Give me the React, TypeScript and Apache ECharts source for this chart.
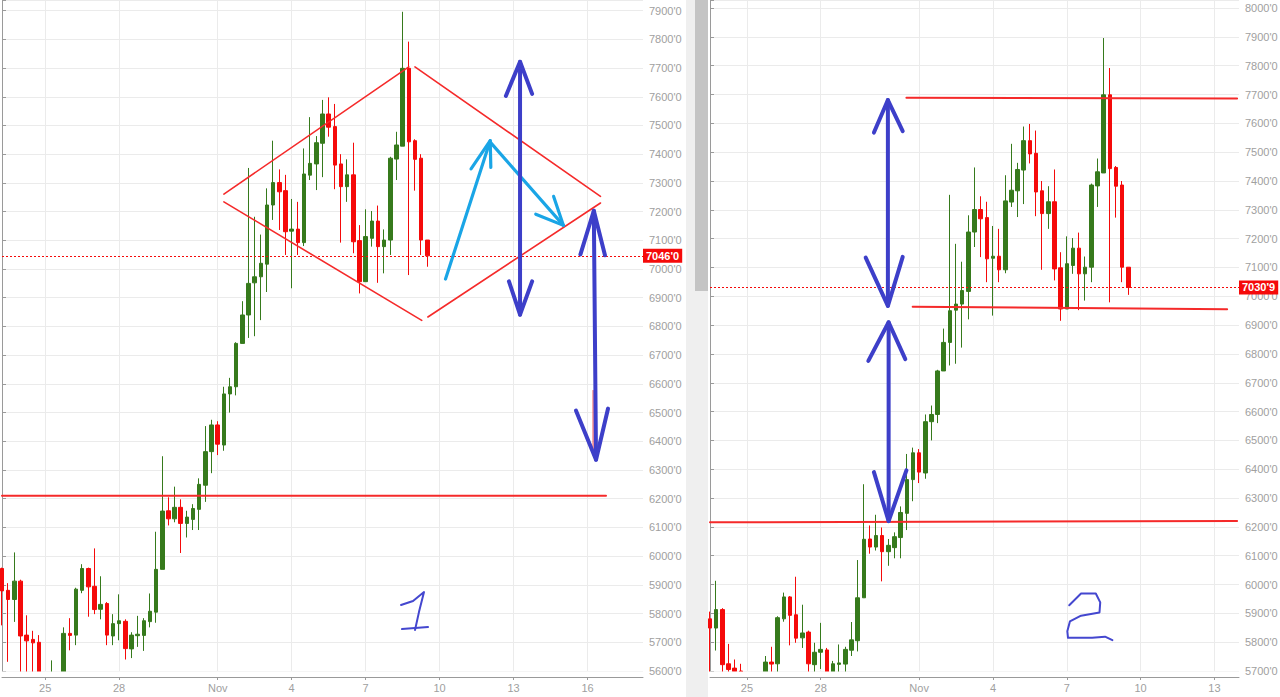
import React, { useEffect, useRef } from 'react';
import * as echarts from 'echarts';

// ---- time slots (6h candles) ----
const START_UTC = Date.UTC(2018, 9, 23, 6); // Oct 23 06:00
const SLOT_HOURS = 6;
const LEFT_SLOTS = 105; // categories on the left panel
const RIGHT_START = 1; // right panel starts one slot later
const RIGHT_SLOTS = 87;

const dayTickLabels: Record<string, string> = {
  '10-25': '25', '10-28': '28', '11-01': 'Nov', '11-04': '4',
  '11-07': '7', '11-10': '10', '11-13': '13', '11-16': '16',
};

// ---- candle values (open, close, low, high), one per 6h slot ----
const opens = [5957, 5881, 5849, 5913, 5725, 5710, 5700, 5585, 5560, 5590, 5575, 5731, 5725, 5881, 5957, 5895, 5815, 5835, 5722, 5765, 5773, 5677, 5723, 5724, 5772, 5805, 5954, 6158, 6130, 6170, 6114, 6128, 6163, 6247, 6364, 6457, 6387, 6565, 6590, 6741, 6840, 6952, 6973, 7017, 7223, 7301, 7273, 7132, 7139, 7092, 7327, 7366, 7438, 7540, 7496, 7366, 7287, 7328, 7099, 6956, 7107, 7167, 7078, 7101, 7383, 7428, 7699, 7447, 7386, 7101];
const closes = [5879, 5849, 5913, 5722, 5705, 5698, 5585, 5540, 5590, 5575, 5731, 5724, 5885, 5957, 5893, 5814, 5832, 5725, 5765, 5775, 5678, 5725, 5728, 5775, 5808, 5954, 6157, 6130, 6170, 6114, 6136, 6166, 6250, 6364, 6457, 6390, 6565, 6590, 6741, 6840, 6950, 6973, 7020, 7223, 7301, 7269, 7130, 7139, 7092, 7331, 7368, 7440, 7540, 7494, 7362, 7287, 7328, 7095, 6956, 7113, 7167, 7078, 7101, 7386, 7432, 7699, 7443, 7382, 7101, 7046];
const lows = [5759, 5632, 5771, 5560, 5560, 5560, 5520, 5500, 5530, 5540, 5560, 5672, 5690, 5871, 5789, 5798, 5780, 5690, 5690, 5707, 5640, 5645, 5684, 5670, 5752, 5768, 5954, 6107, 6118, 6011, 6065, 6091, 6091, 6189, 6289, 6352, 6367, 6500, 6560, 6741, 6760, 6766, 6822, 6920, 7171, 7136, 7049, 6933, 7049, 7080, 7310, 7275, 7320, 7461, 7278, 7092, 7234, 7055, 6915, 6956, 7078, 6952, 6985, 7049, 7310, 7428, 6979, 7273, 7049, 7008];
const highs = [5960, 5906, 6013, 5918, 5794, 5740, 5725, 5595, 5637, 5598, 5752, 5784, 5890, 5972, 5960, 6027, 5930, 5840, 5798, 5867, 5780, 5735, 5792, 5784, 5870, 6085, 6348, 6205, 6242, 6198, 6158, 6181, 6271, 6453, 6475, 6470, 6590, 6621, 6745, 6888, 7352, 7182, 7120, 7281, 7447, 7347, 7328, 7244, 7234, 7420, 7529, 7463, 7589, 7598, 7575, 7400, 7382, 7440, 7153, 7208, 7202, 7221, 7138, 7391, 7478, 7896, 7792, 7452, 7400, 7101];

// last candle as seen in the second (later) snapshot
const rightLastCandle = { open: 7101, close: 7030.9, low: 7005, high: 7101 };
const leftLastPrice = 7046;
const rightLastPrice = 7030.9;

// ---- drawn annotations, in [slot, price] units ----
const leftDiamond = [
  [[36.0, 7261], [66.0, 7704]],
  [[36.0, 7234], [68.1, 6821]],
  [[67.0, 7704], [97.1, 7253]],
  [[69.1, 6833], [97.1, 7230]],
];
const leftSupport = [[[0, 6210], [98.0, 6210]]];
const leftRedStub = [[[95.9, 6577], [95.9, 6374]]];
const leftCyanArrows = [
  [[71.96, 6965], [79.21, 7447]],
  [[76.1, 7349], [79.21, 7447], [79.31, 7354]],
  [[79.21, 7442], [91.09, 7152]],
  [[86.6, 7191], [91.09, 7152], [89.5, 7253]],
];
const leftBlueArrows = [
  [[84.05, 7722], [84.05, 6841]],
  [[81.75, 7603], [84.05, 7722], [86.01, 7610]],
  [[82.25, 6957], [84.05, 6841], [86.01, 6957]],
  [[96.02, 7203], [96.38, 6336]],
  [[93.85, 7051], [96.02, 7203], [97.83, 7048]],
  [[93.12, 6507], [96.38, 6336], [98.33, 6514]],
];
const leftDigitOne = [
  [[64.74, 5830], [66.69, 5844], [68.47, 5875], [67.66, 5806], [67.01, 5743]],
  [[64.9, 5746], [69.12, 5753]],
];

const rightRedLines = [
  [[31.93, 7689], [85.69, 7686]],
  [[32.95, 6964], [84.07, 6955]],
  [[0, 6216], [85.69, 6220]],
];
const rightBlueArrows = [
  [[28.92, 7681], [28.92, 6967]],
  [[26.65, 7568], [28.92, 7681], [31.33, 7573]],
  [[25.31, 7134], [28.92, 6967], [31.33, 7137]],
  [[29.04, 6910], [29.04, 6220]],
  [[25.74, 6776], [29.04, 6910], [31.75, 6782]],
  [[26.65, 6390], [29.04, 6220], [31.93, 6396]],
];
const rightDigitTwo = [
  [[58.4, 5928], [60.32, 5969], [62.72, 5969], [63.44, 5938], [63.32, 5903], [60.32, 5892], [58.51, 5872], [58.09, 5838], [58.2, 5815], [62.12, 5815], [64.22, 5819], [65.42, 5807]],
];

const GREEN = '#367a1c';
const RED = '#f50a0a';
const AXIS_GREY = '#a0a0a0';
const GRID_GREY = '#ebebeb';
const FONT = 'Liberation Sans, Arial, sans-serif';

function pad(n: number) { return n < 10 ? '0' + n : '' + n; }
function buildCategories(startSlot: number, count: number) {
  const out: string[] = [];
  for (let k = 0; k < count; k++) {
    const d = new Date(START_UTC + (startSlot + k) * SLOT_HOURS * 3600 * 1000);
    out.push(`${pad(d.getUTCMonth() + 1)}-${pad(d.getUTCDate())} ${pad(d.getUTCHours())}:00`);
  }
  return out;
}
function tickLabel(cat: string) {
  const [day, hour] = cat.split(' ');
  if (hour !== '00:00') return '';
  return dayTickLabels[day] || '';
}
function priceText(v: number) {
  return v.toFixed(1).replace('.', "'");
}

const GRIDS = [
  { left: 2, top: 0, width: 641, height: 671 },
  { left: 710, top: 0, width: 529, height: 671 },
];

export default function App() {
  const ref = useRef<HTMLDivElement>(null);
  useEffect(() => {
    if (!ref.current) return;
    const chart = echarts.init(ref.current, undefined, { renderer: 'svg' });

    const leftCats = buildCategories(0, LEFT_SLOTS);
    const rightCats = buildCategories(RIGHT_START, RIGHT_SLOTS);
    const leftCandles = opens.map((o, i) => [o, closes[i], lows[i], highs[i]]);
    const rightCandles = leftCandles.slice(RIGHT_START);
    rightCandles[rightCandles.length - 1] = [rightLastCandle.open, rightLastCandle.close, rightLastCandle.low, rightLastCandle.high];

    const isTick = (_i: number, v: string) => !!tickLabel(v);
    // category axis carrying the line, ticks and labels (drawn above the bottom mask)
    const catAxis = (gridIndex: number, data: string[]) => ({
      type: 'category', gridIndex, data, boundaryGap: false, offset: 6, z: 10,
      axisLine: { show: true, lineStyle: { color: '#9a9a9a', width: 1 } },
      axisTick: { show: true, length: 3, interval: isTick, lineStyle: { color: '#9a9a9a' } },
      axisLabel: { show: true, interval: isTick, formatter: (v: string) => tickLabel(v), color: AXIS_GREY, fontSize: 11, fontFamily: FONT, margin: 5 },
      splitLine: { show: false },
    });
    // same category axis, only for the vertical grid lines (drawn under the candles)
    const catGridAxis = (gridIndex: number, data: string[]) => ({
      type: 'category', gridIndex, data, boundaryGap: false, z: 0,
      axisLine: { show: false }, axisTick: { show: false }, axisLabel: { show: false },
      splitLine: { show: true, interval: isTick, lineStyle: { color: GRID_GREY, width: 1 } },
    });
    const valAxis = (gridIndex: number, min: number, max: number) => ({
      type: 'value', gridIndex, min, max, interval: 100, position: 'right', scale: true, z: 0,
      axisLine: { show: true, lineStyle: { color: '#9a9a9a', width: 1 } },
      axisTick: { show: true, length: 4, lineStyle: { color: '#9a9a9a' } },
      axisLabel: { show: true, color: AXIS_GREY, fontSize: 11, fontFamily: FONT, margin: 6, formatter: (v: number) => (v % 100 === 0 ? `${v}'0` : '') },
      splitLine: { show: true, lineStyle: { color: GRID_GREY, width: 1 } },
    });
    const hiddenX = (gridIndex: number, max: number) => ({ type: 'value', gridIndex, min: 0, max, show: false });

    const strokes = (list: number[][][], xAxisIndex: number, yAxisIndex: number, color: string, width: number) =>
      list.map((pts) => ({
        type: 'line', xAxisIndex, yAxisIndex, data: pts, symbol: 'none', silent: true, z: 5, clip: false,
        lineStyle: { color, width, cap: 'round', join: 'round' },
      }));

    const candleSeries = (xAxisIndex: number, yAxisIndex: number, data: number[][], last: number) => ({
      type: 'candlestick', xAxisIndex, yAxisIndex, data, barWidth: 4, z: 2, clip: true,
      itemStyle: { color: GREEN, color0: RED, borderColor: GREEN, borderColor0: RED, borderWidth: 1 },
      markLine: {
        silent: true, symbol: ['none', 'none'], animation: false,
        lineStyle: { color: RED, width: 1, type: [2, 2] },
        label: { show: true, position: 'end', distance: 0, formatter: () => priceText(last), backgroundColor: RED, color: '#fff', fontWeight: 'bold', fontSize: 11, fontFamily: FONT, padding: [2, 3, 1, 3] },
        data: [{ yAxis: last }],
      },
    });

    // white masks under each plot so candles do not spill below the price floor
    const masks = GRIDS.map((g) => ({
      type: 'rect', z: 3, silent: true,
      shape: { x: g.left - 2, y: g.top + g.height + 0.5, width: g.width + 2.5, height: 697 - g.height },
      style: { fill: '#ffffff' },
    }));

    chart.setOption({
      animation: false,
      backgroundColor: '#ffffff',
      graphic: [
        { type: 'rect', shape: { x: 686, y: 0, width: 22, height: 697 }, style: { fill: '#efefef' }, z: -1 },
        { type: 'rect', shape: { x: 695, y: 0, width: 13, height: 291 }, style: { fill: '#c4c4c4' }, z: -1 },
        ...masks,
      ],
      grid: GRIDS.map((g) => ({ ...g, outerBoundsMode: 'none' })),
      xAxis: [
        catAxis(0, leftCats), hiddenX(0, LEFT_SLOTS - 1),
        catAxis(1, rightCats), hiddenX(1, RIGHT_SLOTS - 1),
        catGridAxis(0, leftCats), catGridAxis(1, rightCats),
      ],
      yAxis: [valAxis(0, 5600, 7937), valAxis(1, 5700, 8028)],
      series: [
        candleSeries(0, 0, leftCandles, leftLastPrice),
        candleSeries(2, 1, rightCandles, rightLastPrice),
        ...strokes(leftDiamond, 1, 0, '#f52a2a', 1.6),
        ...strokes(leftSupport, 1, 0, '#f52a2a', 2),
        ...strokes(leftRedStub, 1, 0, '#f04040', 1),
        ...strokes(leftCyanArrows, 1, 0, '#1aa5e6', 3.2),
        ...strokes(leftBlueArrows, 1, 0, '#3d3fc9', 4),
        ...strokes(leftDigitOne, 1, 0, '#4447cf', 2),
        ...strokes(rightRedLines, 3, 1, '#f52a2a', 2),
        ...strokes(rightBlueArrows, 3, 1, '#3d3fc9', 4),
        ...strokes(rightDigitTwo, 3, 1, '#4447cf', 2),
      ],
    });
    return () => chart.dispose();
  }, []);
  return <div ref={ref} style={{ position: 'absolute', left: 0, top: 0, width: 1280, height: 697, background: '#fff' }} />;
}
